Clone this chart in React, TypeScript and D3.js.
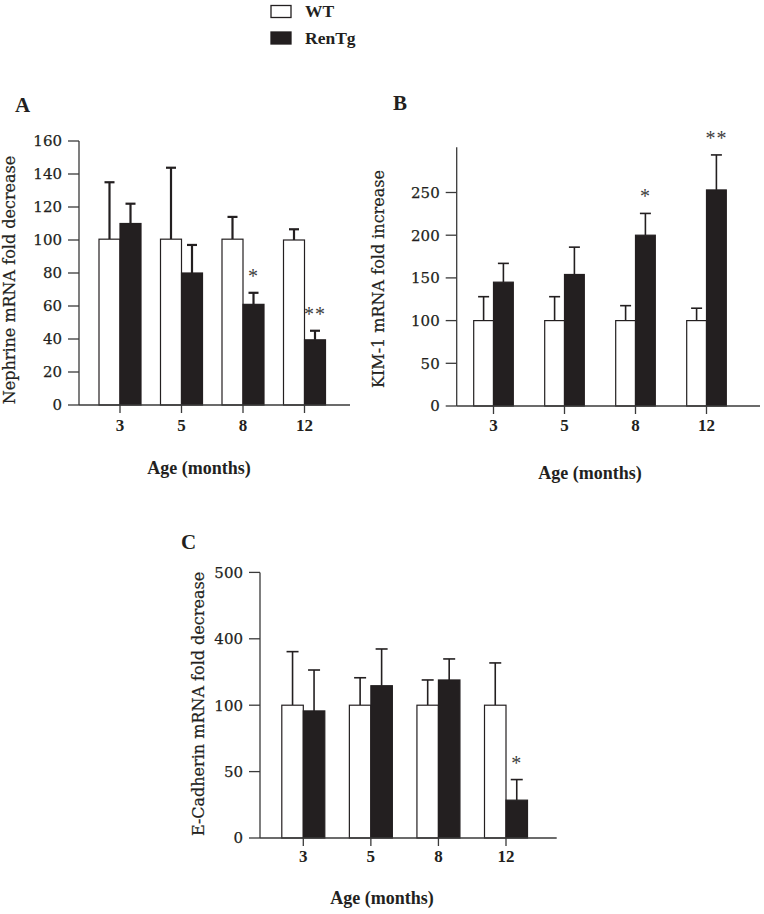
import React from "react";
import * as d3 from "d3";

const ages = ["3", "5", "8", "12"];
const seriesNames = ["WT", "RenTg"];

// Panel A – Nephrine
const nephWT = [100.5, 100.5, 100.5, 100];
const nephWTErr = [135, 143.8, 114, 106.5];
const nephRen = [110, 80, 61, 39.5];
const nephRenErr = [122, 97, 68, 45];
const nephTicks = [0, 20, 40, 60, 80, 100, 120, 140, 160];
const nephStars = ["", "", "*", "**"];

// Panel B – KIM-1
const kimWT = [100, 100, 100, 100];
const kimWTErr = [128, 128, 117.5, 114.5];
const kimRen = [145, 154, 200, 253];
const kimRenErr = [167, 186, 225.5, 294];
const kimTicks = [0, 50, 100, 150, 200, 250];
const kimStars = ["", "", "*", "**"];

// Panel C – E-Cadherin (broken axis: equal spacing between labelled ticks)
const ecadWT = [100, 100, 100, 100];
const ecadWTErr = [342, 224, 214, 291];
const ecadRen = [95.7, 188, 214, 28.5];
const ecadRenErr = [259, 354, 309, 44];
const ecadTicks = [0, 50, 100, 400, 500];
const ecadStars = ["", "", "", "*"];

const INK = "#231f20";
const AXIS = "#3a3a3a";
const SERIF = "'Liberation Serif', 'Times New Roman', serif";
const WIDE = "'DejaVu Serif', serif";

type PanelProps = {
  letter: string;
  letterX: number;
  letterY: number;
  ylabel: string;
  ylabelX: number;
  ylabelY: number;
  wt: number[];
  wtErr: number[];
  ren: number[];
  renErr: number[];
  ticks: number[];
  stars: string[];
  y: d3.ScaleLinear<number, number>;
  axisTopValue: number;
  xAxisX0: number;
  xAxisX1: number;
  xRange: [number, number];
  barW: number;
  errW: number;
  capW: number;
  xLabelX: number;
  xLabelY: number;
  xTickLabelY: number;
};

function Panel(p: PanelProps) {
  const x = d3.scalePoint<string>().domain(ages).range(p.xRange);
  const y0 = p.y(0);
  const yTop = p.y(p.axisTopValue);
  return (
    <g>
      <text x={p.letterX} y={p.letterY} fontFamily={SERIF} fontWeight="bold" fontSize={21} fill={INK}>
        {p.letter}
      </text>
      {/* y axis */}
      <line x1={p.xAxisX0} x2={p.xAxisX0} y1={y0} y2={yTop} stroke={AXIS} strokeWidth={1.3} />
      {p.ticks.map((t) => (
        <g key={t}>
          <line x1={p.xAxisX0 - 11} x2={p.xAxisX0} y1={p.y(t)} y2={p.y(t)} stroke={AXIS} strokeWidth={1.3} />
          <text
            x={p.xAxisX0 - 17}
            y={p.y(t)}
            dy="0.36em"
            textAnchor="end"
            fontFamily={WIDE}
            fontSize={15}
            fill={INK}
            stroke={INK}
            strokeWidth={0.25}
          >
            {t}
          </text>
        </g>
      ))}
      <text
        transform={`translate(${p.ylabelX},${p.ylabelY}) rotate(-90)`}
        textAnchor="middle"
        fontFamily={WIDE}
        fontSize={16}
        fill={INK}
        stroke={INK}
        strokeWidth={0.2}
      >
        {p.ylabel}
      </text>
      {/* bars */}
      {ages.map((a, i) => {
        const cx = x(a) as number;
        const yw = p.y(p.wt[i]);
        const yr = p.y(p.ren[i]);
        const ywe = p.y(p.wtErr[i]);
        const yre = p.y(p.renErr[i]);
        const wc = cx - p.barW / 2;
        const rc = cx + p.barW / 2;
        return (
          <g key={a}>
            <line x1={wc} x2={wc} y1={yw} y2={ywe} stroke={INK} strokeWidth={p.errW} />
            <line x1={wc - p.capW / 2} x2={wc + p.capW / 2} y1={ywe} y2={ywe} stroke={INK} strokeWidth={p.errW} />
            <line x1={rc} x2={rc} y1={yr} y2={yre} stroke={INK} strokeWidth={p.errW} />
            <line x1={rc - p.capW / 2} x2={rc + p.capW / 2} y1={yre} y2={yre} stroke={INK} strokeWidth={p.errW} />
            <rect x={cx - p.barW} y={yw} width={p.barW} height={y0 - yw} fill="#ffffff" stroke={INK} strokeWidth={1.2} />
            <rect x={cx} y={yr} width={p.barW} height={y0 - yr} fill={INK} stroke={INK} strokeWidth={1.2} />
            {p.stars[i] && (
              <text
                x={rc}
                y={yre - 10}
                textAnchor="middle"
                fontFamily={SERIF}
                fontSize={20}
                letterSpacing={1}
                fill="#3d3d3d"
              >
                {p.stars[i]}
              </text>
            )}
            <line x1={cx} x2={cx} y1={y0} y2={y0 + 8} stroke={AXIS} strokeWidth={1.3} />
            <text
              x={cx}
              y={p.xTickLabelY}
              textAnchor="middle"
              fontFamily={SERIF}
              fontWeight="bold"
              fontSize={17}
              fill={INK}
            >
              {a}
            </text>
          </g>
        );
      })}
      {/* x axis */}
      <line x1={p.xAxisX0} x2={p.xAxisX1} y1={y0} y2={y0} stroke={AXIS} strokeWidth={1.3} />
      <text
        x={p.xLabelX}
        y={p.xLabelY}
        textAnchor="middle"
        fontFamily={SERIF}
        fontWeight="bold"
        fontSize={18}
        fill={INK}
      >
        Age (months)
      </text>
    </g>
  );
}

export default function App() {
  const yA = d3.scaleLinear().domain([0, 160]).range([405, 141]);
  const yB = d3.scaleLinear().domain([0, 250]).range([406, 192.5]);
  const yC = d3.scaleLinear().domain(ecadTicks).range([838, 771.6, 705.2, 638.8, 572.4]);

  return (
    <svg
      width={764}
      height={914}
      viewBox="0 0 764 914"
      style={{ position: "absolute", left: 0, top: 0, background: "#ffffff" }}
    >
      <rect x={0} y={0} width={764} height={914} fill="#ffffff" />
      {/* legend */}
      {seriesNames.map((s, i) => (
        <g key={s}>
          <rect
            x={271}
            y={5.5 + i * 26.5}
            width={20}
            height={12}
            fill={i === 0 ? "#ffffff" : INK}
            stroke={INK}
            strokeWidth={1.3}
          />
          <text x={305} y={17 + i * 27} fontFamily={SERIF} fontWeight="bold" fontSize={17.5} fill={INK}>
            {s}
          </text>
        </g>
      ))}
      <Panel
        letter="A"
        letterX={15}
        letterY={112}
        ylabel="Nephrine mRNA fold decrease"
        ylabelX={15}
        ylabelY={280}
        wt={nephWT}
        wtErr={nephWTErr}
        ren={nephRen}
        renErr={nephRenErr}
        ticks={nephTicks}
        stars={nephStars}
        y={yA}
        axisTopValue={160}
        xAxisX0={79}
        xAxisX1={350}
        xRange={[120, 304.5]}
        barW={21}
        errW={2.2}
        capW={10}
        xLabelX={199}
        xLabelY={474}
        xTickLabelY={430.5}
      />
      <Panel
        letter="B"
        letterX={393}
        letterY={110}
        ylabel="KIM-1 mRNA fold increase"
        ylabelX={383.5}
        ylabelY={279}
        wt={kimWT}
        wtErr={kimWTErr}
        ren={kimRen}
        renErr={kimRenErr}
        ticks={kimTicks}
        stars={kimStars}
        y={yB}
        axisTopValue={303}
        xAxisX0={456.7}
        xAxisX1={760}
        xRange={[493.5, 706.5]}
        barW={19.8}
        errW={1.6}
        capW={11}
        xLabelX={590}
        xLabelY={479}
        xTickLabelY={430.5}
      />
      <Panel
        letter="C"
        letterX={181}
        letterY={549}
        ylabel="E-Cadherin mRNA fold decrease"
        ylabelX={204}
        ylabelY={704}
        wt={ecadWT}
        wtErr={ecadWTErr}
        ren={ecadRen}
        renErr={ecadRenErr}
        ticks={ecadTicks}
        stars={ecadStars}
        y={yC}
        axisTopValue={500}
        xAxisX0={260}
        xAxisX1={556.7}
        xRange={[303.3, 506]}
        barW={21.5}
        errW={1.6}
        capW={12}
        xLabelX={382}
        xLabelY={904}
        xTickLabelY={861.5}
      />
    </svg>
  );
}
